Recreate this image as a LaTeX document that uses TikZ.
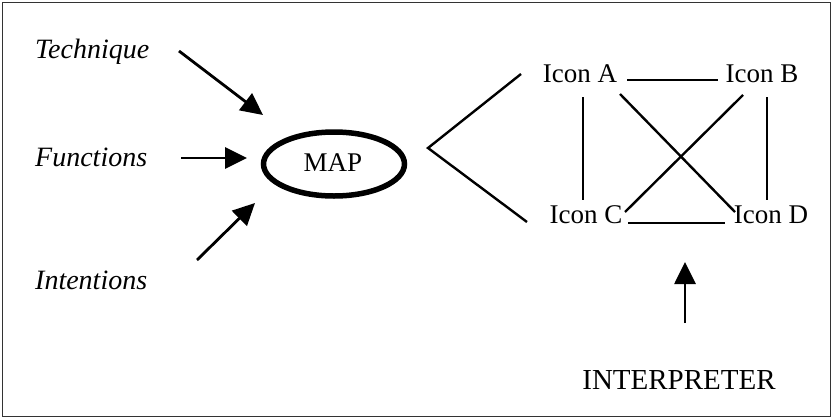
\documentclass[tikz,border=0pt]{standalone}
\usepackage{fontspec}
\setmainfont{Liberation Serif}
\usetikzlibrary{arrows.meta,shapes.geometric}
\begin{document}
\begin{tikzpicture}[x=1pt,y=-1pt,
  lbl/.style={inner sep=0pt,font=\fontsize{27}{32}\selectfont},
  ilbl/.style={lbl,font=\fontsize{28}{33}\selectfont\itshape},
  arr/.style={line width=2.8pt,-{Triangle[length=22pt,width=21pt]}},
  edge/.style={line width=2.4pt}]
\useasboundingbox (0,0) rectangle (832,418);
\draw[line width=1pt,black!80] (2,2) rectangle (830,416);
% left labels
\node[ilbl,anchor=west] (tech) at (35,52) {Technique};
\node[ilbl,anchor=west] (func) at (35,157) {Functions};
\node[ilbl,anchor=west] (intn) at (35,280) {Intentions};
% map
\node[draw,line width=5.5pt,ellipse,inner sep=0pt,minimum width=141pt,minimum height=64pt] (map) at (334,164) {};
\node[lbl] (maptxt) at (333,163) {MAP};
% arrows to map
\coordinate (t0) at (179,51); \coordinate (t1) at (263,115);
\coordinate (f0) at (181,158); \coordinate (f1) at (247,158);
\coordinate (i0) at (197,260); \coordinate (i1) at (255,203);
\draw[arr] (t0) -- (t1);
\draw[arr] (f0) -- (f1);
\draw[arr] (i0) -- (i1);
% vee
\coordinate (v0) at (521,74); \coordinate (v1) at (428,148); \coordinate (v2) at (527,222);
\draw[edge] (v0) -- (v1) -- (v2);
% icons
\node[lbl] (A) at (580,74) {Icon A};
\node[lbl] (B) at (762,74) {Icon B};
\node[lbl] (C) at (586,215) {Icon C};
\node[lbl] (D) at (771,215) {Icon D};
\coordinate (ab0) at (627,80); \coordinate (ab1) at (718,80);
\coordinate (ac0) at (583,97); \coordinate (ac1) at (583,200);
\coordinate (bd0) at (767,97); \coordinate (bd1) at (767,200);
\coordinate (ad0) at (620,94); \coordinate (ad1) at (735,212);
\coordinate (bc0) at (743,95); \coordinate (bc1) at (625,212);
\coordinate (cd0) at (628,223); \coordinate (cd1) at (725,223);
\draw[edge] (ab0) -- (ab1);
\draw[edge] (ac0) -- (ac1);
\draw[edge] (bd0) -- (bd1);
\draw[edge] (ad0) -- (ad1);
\draw[edge] (bc0) -- (bc1);
\draw[edge] (cd0) -- (cd1);
% interpreter
\node[lbl,font=\fontsize{29}{34}\selectfont] (interp) at (679,380) {INTERPRETER};
\coordinate (p0) at (685,323); \coordinate (p1) at (685,262);
\draw[arr] (p0) -- (p1);
\end{tikzpicture}
\end{document}
